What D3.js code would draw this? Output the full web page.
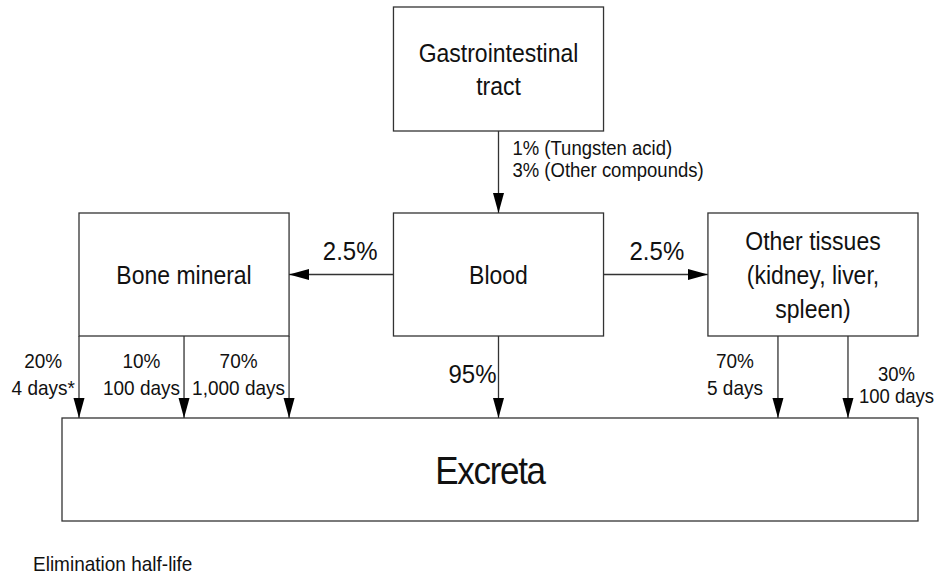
<!DOCTYPE html>
<html>
<head>
<meta charset="utf-8">
<script src="https://cdn.jsdelivr.net/npm/d3@7"></script>
<style>
  body { margin: 0; background: #fff; }
  text { font-family: "Liberation Sans", Arial, sans-serif; fill: #111; }
</style>
</head>
<body>
<div id="diagram"></div>
<script>
// compartments (middle row, left to right)
const columns = ['bone', 'blood', 'tissues'];
const columnLabels = [['Bone mineral'], ['Blood'], ['Other tissues', '(kidney, liver,', 'spleen)']];
const giLabel = ['Gastrointestinal', 'tract'];
const excretaLabel = ['Excreta'];

// transfer fractions
const absorption = ['1% (Tungsten acid)', '3% (Other compounds)'];
const bloodTransfer = [2.5, 95, 2.5]; // to bone, excreta, other tissues
const boneFractions = [20, 10, 70];
const boneHalfLives = ['4 days*', '100 days', '1,000 days'];
const tissueFractions = [70, 30];
const tissueHalfLives = ['5 days', '100 days'];
const footnote = 'Elimination half-life';

const SETTING = {
  width: 942,
  height: 577,
  stretch: 1.1, // text in the original is drawn a bit taller than wide
  stroke: '#333',
};

const svg = d3.select('#diagram').append('svg')
  .attr('width', SETTING.width)
  .attr('height', SETTING.height);

svg.append('defs').append('marker')
  .attr('id', 'head')
  .attr('markerUnits', 'userSpaceOnUse')
  .attr('viewBox', '0 -6 20 12')
  .attr('refX', 20)
  .attr('refY', 0)
  .attr('markerWidth', 20)
  .attr('markerHeight', 12)
  .attr('orient', 'auto')
  .append('path')
  .attr('d', 'M0,-5.5L20,0L0,5.5Z')
  .attr('fill', '#000');

// layout
const x = d3.scaleBand().domain(columns).range([79, 918]).paddingInner(0.332);
const rowGI = [7, 131];
const rowMid = [213, 336];
const rowExc = [418, 521];
const excX = [62, 918];
const midY = (rowMid[0] + rowMid[1]) / 2;

function box(x0, x1, y0, y1) {
  svg.append('rect')
    .attr('x', x0).attr('y', y0)
    .attr('width', x1 - x0).attr('height', y1 - y0)
    .attr('fill', 'none')
    .attr('stroke', SETTING.stroke)
    .attr('stroke-width', 1.3);
}

function arrow(x1, y1, x2, y2) {
  svg.append('line')
    .attr('x1', x1).attr('y1', y1)
    .attr('x2', x2).attr('y2', y2)
    .attr('stroke', SETTING.stroke)
    .attr('stroke-width', 1.3)
    .attr('marker-end', 'url(#head)');
}

// text block, first baseline at (tx, ty)
function label(tx, ty, lines, size, anchor, lh, sy) {
  const s = sy || SETTING.stretch;
  const t = svg.append('text')
    .attr('transform', `translate(${tx},${ty}) scale(1,${s})`)
    .attr('font-size', size)
    .attr('text-anchor', anchor || 'middle');
  t.selectAll('tspan')
    .data(lines)
    .join('tspan')
    .attr('x', 0)
    .attr('y', (d, i) => (i * (lh || size * 1.2)) / s)
    .text((d) => d);
  return t;
}

// centred lines, block's right edge at rightX
function labelRight(rightX, ty, lines, size, lh, sy) {
  const t = label(0, ty, lines, size, 'middle', lh, sy);
  const w = t.node().getBBox().width;
  t.attr('transform', `translate(${rightX - w / 2},${ty}) scale(1,${sy || SETTING.stretch})`);
  return t;
}

function labelLeft(leftX, ty, lines, size, lh, sy) {
  const t = label(0, ty, lines, size, 'middle', lh, sy);
  const w = t.node().getBBox().width;
  t.attr('transform', `translate(${leftX + w / 2},${ty}) scale(1,${sy || SETTING.stretch})`);
  return t;
}

function boxLabel(cx, cy, lines, size, lh) {
  const cap = 0.716 * size * SETTING.stretch;
  label(cx, cy - ((lines.length - 1) * lh) / 2 + cap / 2, lines, size, 'middle', lh);
}

// boxes
const bloodX = [x('blood'), x('blood') + x.bandwidth()];
box(bloodX[0], bloodX[1], rowGI[0], rowGI[1]);
boxLabel((bloodX[0] + bloodX[1]) / 2, (rowGI[0] + rowGI[1]) / 2, giLabel, 23, 33);

columns.forEach((c, i) => {
  box(x(c), x(c) + x.bandwidth(), rowMid[0], rowMid[1]);
  boxLabel(x(c) + x.bandwidth() / 2, midY, columnLabels[i], 23, 34);
});

box(excX[0], excX[1], rowExc[0], rowExc[1]);
const excLabel = label((excX[0] + excX[1]) / 2, (rowExc[0] + rowExc[1]) / 2 + 14, excretaLabel, 35, 'middle');
excLabel.attr('letter-spacing', -1.3);

// GI -> blood
const bloodCx = (bloodX[0] + bloodX[1]) / 2;
arrow(bloodCx, rowGI[1], bloodCx, rowMid[0]);
label(bloodCx + 14, 155, absorption, 18.5, 'start', 22, 1.05);

// blood -> bone, other tissues, excreta
const pct = (v) => `${v}%`;
arrow(bloodX[0], midY, x('bone') + x.bandwidth(), midY);
label(bloodX[0] - 16, 260, [pct(bloodTransfer[0])], 24, 'end');
arrow(bloodX[1], midY, x('tissues'), midY);
label(bloodX[1] + 26, 260, [pct(bloodTransfer[2])], 24, 'start');
arrow(bloodCx, rowMid[1], bloodCx, rowExc[0]);
label(bloodCx - 2, 383, [pct(bloodTransfer[1])], 24, 'end');

// bone mineral -> excreta
const boneX = d3.scalePoint()
  .domain(boneFractions.map((d, i) => i))
  .range([x('bone'), x('bone') + x.bandwidth()]);
boneFractions.forEach((f, i) => {
  arrow(boneX(i), rowMid[1], boneX(i), rowExc[0]);
  labelRight(boneX(i) - 4, 368, [pct(f), boneHalfLives[i]], 19, 27);
});

// other tissues -> excreta
const tissueX = d3.scalePoint()
  .domain(tissueFractions.map((d, i) => i))
  .range([x('tissues'), x('tissues') + x.bandwidth()])
  .padding(1);
arrow(tissueX(0), rowMid[1], tissueX(0), rowExc[0]);
labelRight(tissueX(0) - 15, 368, [pct(tissueFractions[0]), tissueHalfLives[0]], 19, 27);
arrow(tissueX(1), rowMid[1], tissueX(1), rowExc[0]);
labelLeft(tissueX(1) + 11, 381, [pct(tissueFractions[1]), tissueHalfLives[1]], 18.5, 22, 1.05);

// footnote
label(33, 571, [footnote], 19, 'start');
</script>
</body>
</html>
